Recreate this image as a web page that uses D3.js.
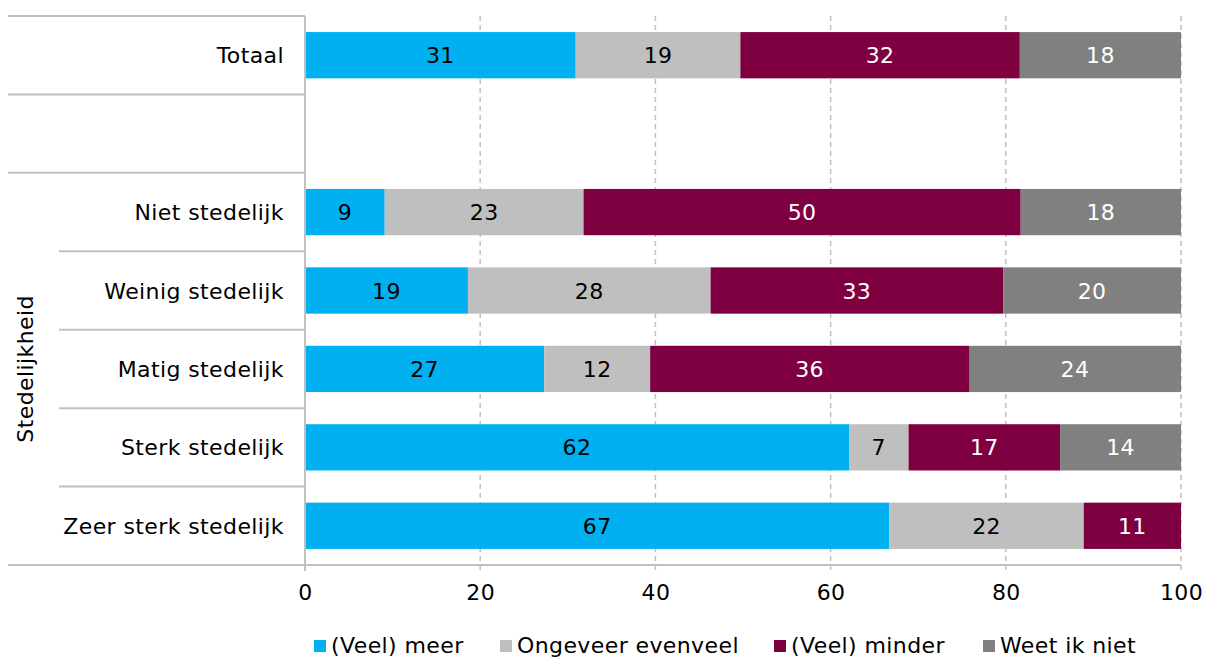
<!DOCTYPE html>
<html>
<head>
<meta charset="utf-8">
<script src="https://cdn.jsdelivr.net/npm/d3@7"></script>
<style>
  html, body { margin: 0; padding: 0; background: #fff; }
  svg text { font-family: "DejaVu Sans", Verdana, sans-serif; letter-spacing: 0.4px; }
</style>
</head>
<body>
<svg id="chart" width="1206" height="657"></svg>
<script>
// ---- data ----
const categories = ["Totaal", "", "Niet stedelijk", "Weinig stedelijk", "Matig stedelijk", "Sterk stedelijk", "Zeer sterk stedelijk"];
const seriesNames = ["(Veel) meer", "Ongeveer evenveel", "(Veel) minder", "Weet ik niet"];
const meer     = [30.9, null,  9.1, 18.6, 27.3, 62.1, 66.7];
const evenveel = [18.8, null, 22.7, 27.7, 12.1,  6.8, 22.2];
const minder   = [31.9, null, 49.9, 33.4, 36.4, 17.3, 11.1];
const weetNiet = [18.4, null, 18.3, 20.3, 24.2, 13.8,  0.0];
const xTicks = [0, 20, 40, 60, 80, 100];
const groupTitle = "Stedelijkheid";

(function () {
const colors = ["#00B0F0", "#BFBFBF", "#7F0040", "#808080"];
const labelColors = ["#000", "#000", "#fff", "#fff"];

const svg = d3.select("#chart");
const pLeft = 305, pRight = 1181, pTop = 16, pBottom = 565;

const x = d3.scaleLinear().domain([0, 100]).range([pLeft, pRight]);
const y = d3.scaleBand().domain(d3.range(categories.length)).range([pTop, pBottom]).paddingInner(0.41).paddingOuter(0.205);
const yStep = y.step();

const rows = categories.map((c, i) => ({ cat: c, i, meer: meer[i], evenveel: evenveel[i], minder: minder[i], weetNiet: weetNiet[i] }));
const keys = ["meer", "evenveel", "minder", "weetNiet"];
const stack = d3.stack().keys(keys).value((d, k) => d[k] || 0);
const stacked = stack(rows);

// gridlines
svg.append("g").selectAll("line").data(xTicks.slice(1)).join("line")
  .attr("x1", d => x(d)).attr("x2", d => x(d))
  .attr("y1", pTop).attr("y2", pBottom + 6)
  .attr("stroke", "#c0c0c0").attr("stroke-width", 1.5).attr("stroke-dasharray", "5,4");

// bars
const g = svg.append("g");
stacked.forEach((s, si) => {
  const segs = s.filter(d => d.data[keys[si]] != null && d[1] - d[0] > 0);
  const sg = g.append("g");
  sg.selectAll("rect").data(segs).join("rect")
    .attr("x", d => x(d[0])).attr("width", d => x(d[1]) - x(d[0]))
    .attr("y", d => y(d.data.i)).attr("height", y.bandwidth())
    .attr("fill", colors[si]);
  sg.selectAll("text").data(segs).join("text")
    .attr("x", d => (x(d[0]) + x(d[1])) / 2)
    .attr("y", d => y(d.data.i) + y.bandwidth() / 2 + 8)
    .attr("text-anchor", "middle").attr("font-size", 22)
    .attr("fill", labelColors[si])
    .text(d => Math.round(d.data[keys[si]]));
});

// category separators (left axis)
const sepColor = "#c0c0c0";
const boundaries = d3.range(categories.length + 1).map(k => pTop + k * yStep);
svg.append("g").selectAll("line").data(boundaries).join("line")
  .attr("x1", (d, k) => (k <= 2 || k === categories.length) ? 8 : 59)
  .attr("x2", pLeft)
  .attr("y1", d => d).attr("y2", d => d)
  .attr("stroke", sepColor).attr("stroke-width", 2);

// bottom axis line
svg.append("line").attr("x1", pLeft).attr("x2", pRight).attr("y1", pBottom).attr("y2", pBottom)
  .attr("stroke", sepColor).attr("stroke-width", 2);
// vertical axis line
svg.append("line").attr("x1", pLeft).attr("x2", pLeft).attr("y1", pTop).attr("y2", pBottom + 6)
  .attr("stroke", sepColor).attr("stroke-width", 2);

// category labels
svg.append("g").selectAll("text").data(categories).join("text")
  .attr("x", 284).attr("y", (d, i) => y(i) + y.bandwidth() / 2 + 8)
  .attr("text-anchor", "end").attr("font-size", 22).attr("fill", "#000")
  .text(d => d);

// group title
const gy = (boundaries[2] + boundaries[categories.length]) / 2;
svg.append("text").attr("transform", `translate(33,${gy}) rotate(-90)`)
  .attr("text-anchor", "middle").attr("font-size", 22).attr("fill", "#000").text(groupTitle);

// x axis labels
const xAxis = d3.axisBottom(x).tickValues(xTicks).tickSize(0).tickPadding(0).tickFormat(d3.format("d"));
const xa = svg.append("g").attr("transform", `translate(0,${pBottom})`).call(xAxis);
xa.select(".domain").remove();
xa.selectAll("text").attr("font-size", 22).attr("fill", "#000").attr("dy", 0).attr("y", 35)
  .style("font-family", '"DejaVu Sans", Verdana, sans-serif');

// legend
const legendX = [314, 500, 774, 983];
const leg = svg.append("g").selectAll("g").data(seriesNames).join("g")
  .attr("transform", (d, i) => `translate(${legendX[i]},0)`);
leg.append("rect").attr("x", 0).attr("y", 640).attr("width", 12).attr("height", 12).attr("fill", (d, i) => colors[i]);
leg.append("text").attr("x", 17).attr("y", 653).attr("font-size", 22).attr("fill", "#000").text(d => d);
})();
</script>
</body>
</html>
